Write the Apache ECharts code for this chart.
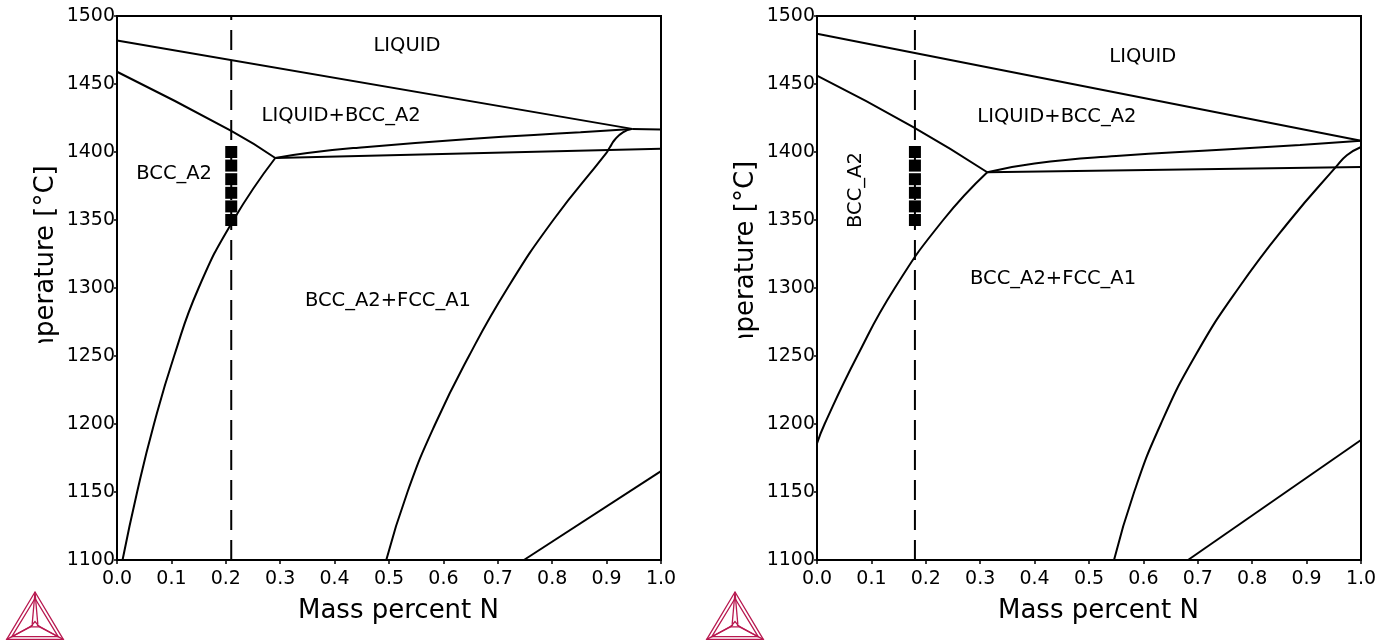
<!DOCTYPE html>
<html>
<head>
<meta charset="utf-8">
<script src="https://cdn.jsdelivr.net/npm/echarts@6/dist/echarts.min.js"></script>
<style>
  html, body { margin: 0; padding: 0; background: #fff; }
  #chart { width: 1393px; height: 641px; }
</style>
</head>
<body>
<div id="chart"></div>
<script>
// Axis ranges and tick labels (shared by both diagrams)
const massRange = [0, 1];
const massStep = 0.1;
const tempRange = [1100, 1500];
const tempStep = 50;
const xAxisTitle = 'Mass percent N';
const yAxisTitle = 'Temperature [°C]';

// ---- Left diagram: phase boundaries [mass % N, °C] ----
const leftLiquidus = [[0, 1482], [0.947, 1417]];
const leftPeritectic = [[0.947, 1417], [1, 1416.6]];
const leftBccSolidus = [[0, 1459], [0.21, 1415.5], [0.291, 1395.6]];
const leftThreePhase = [[0.291, 1395.6], [1, 1402.4]];
const leftLiqBccLower = [[0.291, 1395.6], [0.35, 1399.3], [0.444, 1403.2], [0.648, 1409.6], [0.852, 1414.6], [0.947, 1417]];
const leftBccFcc = [[0.0102, 1100], [0.037, 1150], [0.068, 1200], [0.105, 1250], [0.150, 1300], [0.214, 1350], [0.291, 1395.6]];
const leftFccBcc = [[0.495, 1100], [0.534, 1150], [0.585, 1200], [0.647, 1250], [0.718, 1300], [0.802, 1350], [0.899, 1399], [0.906, 1403.5], [0.915, 1409], [0.93, 1414.5], [0.947, 1417]];
const leftLowFcc = [[0.748, 1100], [1, 1165.3]];
const leftAlloyN = 0.21;
const leftMeasuredT = [1350, 1360, 1370, 1380, 1390, 1400];
const leftRegionNames = ['LIQUID', 'LIQUID+BCC_A2', 'BCC_A2', 'BCC_A2+FCC_A1'];
const leftRegionAt = [[0.533, 1478], [0.412, 1426.5], [0.105, 1383.8], [0.498, 1290.4]];

// ---- Right diagram ----
const rightLiquidus = [[0, 1487], [1, 1408.3]];
const rightBccSolidus = [[0, 1456.1], [0.177, 1418.3], [0.313, 1385.1]];
const rightThreePhase = [[0.313, 1385.1], [1, 1389]];
const rightLiqBccLower = [[0.313, 1385.1], [0.4, 1391.5], [0.55, 1397], [0.75, 1401.8], [0.888, 1405.2], [1, 1408.3]];
const rightBccFcc = [[0, 1185.7], [0.014, 1200], [0.074, 1250], [0.143, 1300], [0.232, 1350], [0.313, 1385.1]];
const rightFccBcc = [[0.546, 1100], [0.583, 1150], [0.632, 1200], [0.695, 1250], [0.775, 1300], [0.87, 1350], [0.954, 1389], [0.974, 1397.6], [1, 1403.7]];
const rightLowFcc = [[0.682, 1100], [1, 1188.2]];
const rightAlloyN = 0.18;
const rightMeasuredT = [1350, 1360, 1370, 1380, 1390, 1400];
const rightRegionNames = ['LIQUID', 'LIQUID+BCC_A2', 'BCC_A2', 'BCC_A2+FCC_A1'];
const rightRegionAt = [[0.599, 1469.9], [0.441, 1425.7], [0.072, 1372], [0.434, 1306.6]];
const rightRegionRotate = [0, 0, 90, 0];

const FONT = 'DejaVu Sans';
const INK = '#000';
const LOGO = '#b8184f';

const chart = echarts.init(document.getElementById('chart'), null, { renderer: 'canvas' });

function boundary(idx, data) {
  return {
    type: 'line', xAxisIndex: idx, yAxisIndex: idx, data: data,
    showSymbol: false, smooth: 0.5, silent: true,
    lineStyle: { color: INK, width: 2 }, z: 3
  };
}

function alloyLine(idx, n) {
  return {
    type: 'line', xAxisIndex: idx, yAxisIndex: idx,
    data: [[n, tempRange[0]], [n, tempRange[1]]],
    showSymbol: false, silent: true,
    lineStyle: { color: INK, width: 2, type: [20, 10] }, z: 2
  };
}

function measured(idx, n, temps) {
  return {
    type: 'scatter', xAxisIndex: idx, yAxisIndex: idx,
    data: temps.map(t => [n, t]), symbol: 'rect', symbolSize: 12, silent: true,
    itemStyle: { color: INK, opacity: 1 }, z: 4
  };
}

function regionLabels(idx, names, at, rot) {
  return {
    type: 'scatter', xAxisIndex: idx, yAxisIndex: idx, symbolSize: 0, silent: true,
    itemStyle: { opacity: 1 },
    data: names.map((nm, i) => ({
      name: nm, value: at[i],
      label: { rotate: rot ? rot[i] : 0 }
    })),
    label: {
      show: true, position: 'inside', formatter: p => p.name, opacity: 1,
      color: INK, fontFamily: FONT, fontSize: 19.5
    }, z: 5
  };
}

function xAxisFor(idx) {
  return {
    type: 'value', gridIndex: idx, min: massRange[0], max: massRange[1], interval: massStep,
    name: xAxisTitle, nameLocation: 'middle', nameGap: 38,
    nameTextStyle: { fontFamily: FONT, fontSize: 26, color: INK, padding: [0, 0, 0, 19] },
    axisLine: { show: true, lineStyle: { color: INK, width: 2 } },
    axisTick: { show: true, length: 4, lineStyle: { color: INK, width: 1.5 } },
    axisLabel: { fontFamily: FONT, fontSize: 19, color: INK, margin: 10, formatter: v => v.toFixed(1) },
    splitLine: { show: false }
  };
}

function yAxisFor(idx) {
  return {
    type: 'value', gridIndex: idx, min: tempRange[0], max: tempRange[1], interval: tempStep,
    axisLine: { show: true, lineStyle: { color: INK, width: 2 } },
    axisTick: { show: true, length: 3, lineStyle: { color: INK, width: 1.5 } },
    axisLabel: { fontFamily: FONT, fontSize: 19, color: INK, margin: 2, formatter: v => String(v) },
    splitLine: { show: false }
  };
}

// Thermo-Calc style triangle mark, drawn as strokes
function logo(dx) {
  const s = { stroke: LOGO, lineWidth: 1.3, fill: null };
  const pts = (arr) => arr.map(p => [p[0] + dx, p[1]]);
  return {
    type: 'group', silent: true,
    children: [
      { type: 'polygon', shape: { points: pts([[35, 592], [6.7, 639.3], [63.3, 639.3]]) }, style: s },
      { type: 'polygon', shape: { points: pts([[35, 598.5], [11.8, 636.7], [58.2, 636.7]]) }, style: s },
      { type: 'polygon', shape: { points: pts([[35, 621.5], [30.5, 626.8], [39.5, 626.8]]) }, style: s },
      { type: 'polyline', shape: { points: pts([[35, 592], [32.2, 624]]) }, style: s },
      { type: 'polyline', shape: { points: pts([[35, 592], [37.8, 624]]) }, style: s },
      { type: 'polyline', shape: { points: pts([[6.7, 639.3], [30.5, 626.8]]) }, style: s },
      { type: 'polyline', shape: { points: pts([[11.8, 636.7], [33, 625]]) }, style: s },
      { type: 'polyline', shape: { points: pts([[63.3, 639.3], [39.5, 626.8]]) }, style: s },
      { type: 'polyline', shape: { points: pts([[58.2, 636.7], [37, 625]]) }, style: s }
    ]
  };
}

// Vertical temperature title; its lower end is hidden behind a white strip
function yTitle(cx, cy, cutY) {
  return [
    {
      type: 'text', x: cx, y: cy, rotation: Math.PI / 2, silent: true, z: 10,
      style: { text: yAxisTitle, fontFamily: FONT, fontSize: 26, fill: INK, align: 'center', verticalAlign: 'middle' }
    },
    {
      type: 'rect', silent: true, z: 11,
      shape: { x: cx - 22, y: cutY, width: 40, height: 80 },
      style: { fill: '#fff' }
    }
  ];
}

const option = {
  backgroundColor: '#fff',
  animation: false,
  grid: [
    { left: 117, top: 16, width: 544, height: 544, show: true, borderColor: INK, borderWidth: 2, backgroundColor: 'transparent' },
    { left: 817, top: 16, width: 544, height: 544, show: true, borderColor: INK, borderWidth: 2, backgroundColor: 'transparent' }
  ],
  xAxis: [xAxisFor(0), xAxisFor(1)],
  yAxis: [yAxisFor(0), yAxisFor(1)],
  series: [
    boundary(0, leftLiquidus),
    boundary(0, leftPeritectic),
    boundary(0, leftBccSolidus),
    boundary(0, leftThreePhase),
    boundary(0, leftLiqBccLower),
    boundary(0, leftBccFcc),
    boundary(0, leftFccBcc),
    boundary(0, leftLowFcc),
    alloyLine(0, leftAlloyN),
    measured(0, leftAlloyN, leftMeasuredT),
    regionLabels(0, leftRegionNames, leftRegionAt),

    boundary(1, rightLiquidus),
    boundary(1, rightBccSolidus),
    boundary(1, rightThreePhase),
    boundary(1, rightLiqBccLower),
    boundary(1, rightBccFcc),
    boundary(1, rightFccBcc),
    boundary(1, rightLowFcc),
    alloyLine(1, rightAlloyN),
    measured(1, rightAlloyN, rightMeasuredT),
    regionLabels(1, rightRegionNames, rightRegionAt, rightRegionRotate)
  ],
  graphic: [
    ...yTitle(46, 277.5, 343),
    ...yTitle(746, 273, 338),
    logo(0),
    logo(700)
  ]
};

chart.setOption(option);
</script>
</body>
</html>
